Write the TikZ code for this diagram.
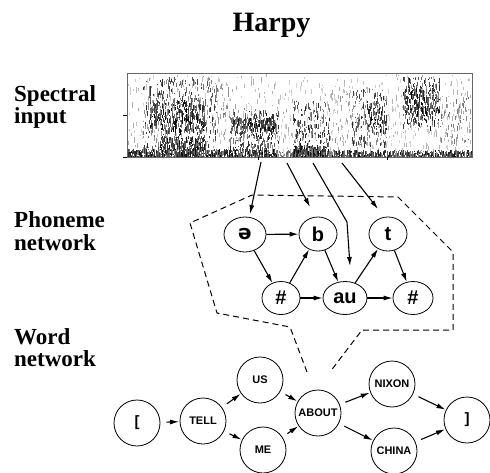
\documentclass[tikz,border=0pt]{standalone}
\usepackage{fontspec}
\setmainfont{Liberation Serif}
\newfontfamily\hv{Liberation Sans}
\newfontfamily\dv{DejaVu Sans}
\usetikzlibrary{arrows.meta,shapes.geometric}
\def\specblob#1#2#3#4#5#6{%
 \pgfmathtruncatemacro\cnt{(#2-#1)/1.2}%
 \foreach \k in {0,...,\cnt}{%
   \foreach \m in {1,...,#5}{%
     \pgfmathsetmacro\xx{#1+1.2*\k+0.6*rnd}%
     \pgfmathsetmacro\yy{#3+rnd*(#4-#3)}%
     \pgfmathsetmacro\ll{0.8+rnd*5}%
     \pgfmathtruncatemacro\gg{#6*(0.45+0.55*rnd)}%
     \draw[black!\gg,line width=0.65pt] (\xx,\yy) -- ++(0,\ll);%
   }%
 }%
}
\begin{document}
\begin{tikzpicture}[x=1pt,y=-1pt,
  lab/.style={font=\fontsize{23}{25}\selectfont\bfseries,anchor=base west,inner sep=0},
  ph/.style={ellipse,draw,line width=0.8pt,inner sep=0,font=\hv\bfseries\fontsize{20}{21}\selectfont},
  wd/.style={circle,draw,line width=0.8pt,inner sep=0,minimum size=46pt,font=\hv\bfseries\fontsize{11}{12}\selectfont},
  arr/.style={-{Latex[length=9pt,width=5pt]},line width=1.1pt},
  warr/.style={arr,shorten <=6pt,shorten >=0.5pt}]
\useasboundingbox (0,0) rectangle (490,472);
\pgfmathsetseed{7}
% title and labels
\node[font=\fontsize{28}{30}\selectfont\bfseries,anchor=base,inner sep=0] (title) at (271.5,31.5) {Harpy};
\node[lab] (l1) at (14,101) {Spectral};
\node[lab] (l2) at (14,123) {input};
\node[lab] (l3) at (14,227) {Phoneme};
\node[lab] (l4) at (14,250) {network};
\node[lab] (l5) at (14,344) {Word};
\node[lab] (l6) at (14,366) {network};
% spectrogram
\begin{scope}
\clip (127,73) rectangle (472,157);
\specblob{128}{471}{74}{150}{2}{35}
\specblob{143}{217}{76}{150}{6}{85}
\specblob{150}{205}{100}{130}{6}{100}
\specblob{160}{205}{136}{150}{5}{100}
\specblob{217}{230}{80}{140}{2}{55}
\specblob{230}{278}{108}{150}{6}{90}
\specblob{232}{275}{117}{128}{4}{100}
\specblob{278}{292}{90}{150}{1}{40}
\specblob{293}{330}{100}{155}{6}{90}
\specblob{295}{325}{145}{156}{5}{100}
\specblob{330}{352}{85}{150}{2}{45}
\specblob{352}{386}{88}{145}{6}{85}
\specblob{368}{386}{108}{130}{4}{100}
\specblob{386}{402}{90}{150}{1}{35}
\specblob{403}{440}{76}{126}{7}{95}
\specblob{405}{438}{88}{115}{4}{100}
\specblob{440}{471}{95}{145}{3}{60}
\specblob{128}{277}{149}{157}{5}{100}
\specblob{277}{293}{150}{157}{2}{70}
\specblob{293}{330}{149}{157}{5}{100}
\specblob{330}{471}{150}{157}{4}{95}
\end{scope}
\draw[black!60,line width=0.5pt] (127,73) rectangle (472,157);
\draw[line width=0.5pt] (127,115) -- (123,115) (127,157) -- (123,157) (258,157) -- (258,160) (387,157) -- (387,160);
% phoneme network
\node[ph,minimum width=42pt,minimum height=35pt] (schwa) at (245,234.5) {\dv\bfseries ə};
\node[ph,minimum width=38pt,minimum height=34pt] (b) at (318,234) {b};
\node[ph,minimum width=38pt,minimum height=34pt] (t) at (388,234) {t};
\node[ph,minimum width=38pt,minimum height=33pt] (h1) at (281,298) {\#};
\node[ph,minimum width=44pt,minimum height=33pt] (au) at (345,298) {au};
\node[ph,minimum width=40pt,minimum height=33pt] (h2) at (413,298) {\#};
\draw[arr] (schwa) -- (b);
\draw[arr] (schwa) -- (h1);
\draw[arr] (h1) -- (b);
\draw[arr] (b) -- (au);
\draw[arr] (h1) -- (au);
\draw[arr] (au) -- (t);
\draw[arr] (t) -- (h2);
\draw[arr] (au) -- (h2);
% spectrogram to phonemes
\coordinate (s1) at (261,162); \coordinate (e1) at (250,214);
\coordinate (s2) at (287,163); \coordinate (e2) at (310,207);
\coordinate (s3) at (313,163); \coordinate (k3) at (347,222); \coordinate (e3) at (350,266);
\coordinate (s4) at (342,163); \coordinate (e4) at (378,209);
\draw[arr] (s1) -- (e1);
\draw[arr] (s2) -- (e2);
\draw[arr] (s3) -- (k3) -- (e3);
\draw[arr] (s4) -- (e4);
% dashed outline
\draw[dashed,dash pattern=on 6pt off 4pt,line width=1pt]
 (307,372) -- (290,327) -- (217,313) -- (190,223) -- (252,195) -- (398,197) -- (453,252) -- (453,330) -- (362,330) -- (330,372);
% word network
\node[wd,font=\hv\bfseries\fontsize{15}{15}\selectfont] (lb) at (137,423) {[};
\node[wd] (tell) at (203,421) {TELL};
\node[wd] (us) at (260,380) {US};
\node[wd] (me) at (263,450) {ME};
\node[wd] (about) at (318,413) {ABOUT};
\node[wd] (nixon) at (392,384) {NIXON};
\node[wd] (china) at (394,451) {CHINA};
\node[wd,font=\hv\bfseries\fontsize{15}{15}\selectfont] (rb) at (467,420) {]};
\draw[warr] (lb) -- (tell);
\draw[warr] (tell) -- (us);
\draw[warr] (tell) -- (me);
\draw[warr] (us) -- (about);
\draw[warr] (me) -- (about);
\draw[warr] (about) -- (nixon);
\draw[warr] (about) -- (china);
\draw[warr] (nixon) -- (rb);
\draw[warr] (china) -- (rb);
\end{tikzpicture}
\end{document}
